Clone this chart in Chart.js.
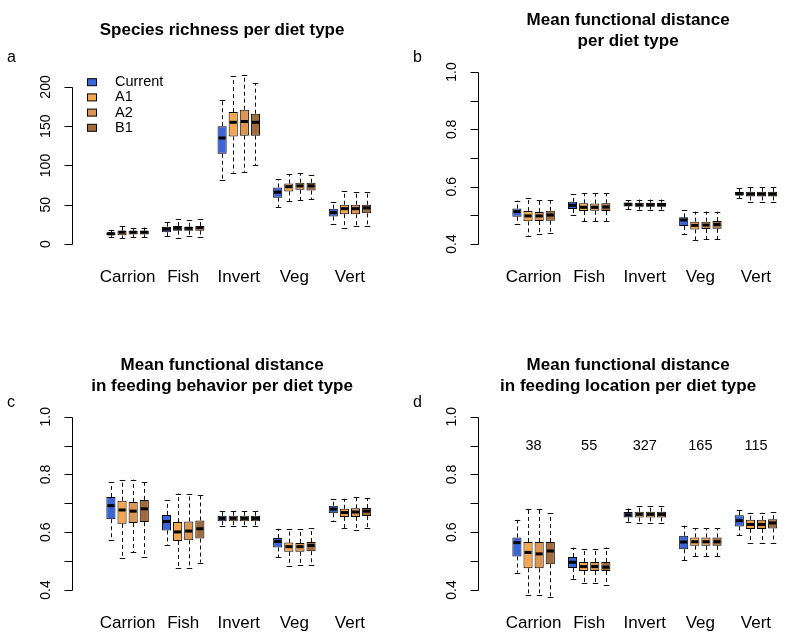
<!DOCTYPE html>
<html>
<head>
<meta charset="utf-8">
<script src="https://cdn.jsdelivr.net/npm/chart.js@4.4.0/dist/chart.umd.min.js"></script>
<style>
body { margin: 0; background: #fff; }
#wrap { position: relative; width: 800px; height: 643px; }
canvas { position: absolute; }
</style>
</head>
<body>
<div id="wrap">
  <canvas id="panelA" width="400" height="321" style="left:0;top:0"></canvas>
  <canvas id="panelB" width="400" height="321" style="left:400px;top:0"></canvas>
  <canvas id="panelC" width="400" height="322" style="left:0;top:321px"></canvas>
  <canvas id="panelD" width="400" height="322" style="left:400px;top:321px"></canvas>
</div>
<script>
const categories = ['Carrion', 'Fish', 'Invert', 'Veg', 'Vert'];
const scenarios = ['Current', 'A1', 'A2', 'B1'];
const boxColors = ['#3a65d8', '#f4a650', '#dc9552', '#a26b3b'];

// each row: [lower whisker, q1, median, q3, upper whisker] per diet type
const richCurrent = [[9, 11, 13, 15, 18], [10, 15, 19, 22, 28], [82, 115, 135, 150, 184], [47, 59, 66, 72, 83], [26, 35, 40, 45, 54]];
const richA1 = [[7, 11, 15, 17, 23], [7, 17, 20, 23, 32], [91, 137, 155, 168, 214], [55, 67, 73, 77, 89], [20, 38, 45, 50, 68]];
const richA2 = [[9, 12, 15, 17, 20], [10, 17, 20, 22, 30], [92, 138, 156, 171, 215], [56, 69, 74, 78, 90], [23, 38, 45, 50, 66]];
const richB1 = [[9, 12, 15, 17, 21], [9, 17, 21, 23, 32], [100, 138, 155, 166, 205], [57, 68, 74, 78, 88], [23, 39, 46, 50, 66]];

const fdCurrent = [[.470, .495, .513, .524, .551], [.500, .522, .535, .547, .573], [.521, .531, .538, .545, .553], [.436, .463, .484, .493, .518], [.559, .569, .575, .581, .594]];
const fdA1 = [[.428, .479, .498, .515, .561], [.480, .515, .528, .542, .577], [.520, .530, .537, .544, .555], [.414, .451, .465, .478, .513], [.545, .566, .574, .582, .600]];
const fdA2 = [[.435, .480, .498, .512, .553], [.480, .516, .528, .541, .577], [.520, .530, .537, .544, .555], [.416, .452, .466, .478, .513], [.545, .566, .574, .582, .600]];
const fdB1 = [[.437, .481, .501, .516, .553], [.480, .515, .529, .542, .577], [.520, .530, .537, .544, .555], [.417, .453, .468, .480, .513], [.545, .566, .574, .582, .600]];

const fbCurrent = [[.574, .645, .692, .722, .774], [.555, .606, .637, .660, .711], [.623, .638, .648, .657, .672], [.514, .547, .568, .580, .612], [.640, .666, .680, .692, .715]];
const fbA1 = [[.511, .629, .677, .709, .782], [.475, .570, .601, .635, .734], [.622, .638, .648, .657, .673], [.484, .532, .550, .564, .611], [.613, .653, .668, .681, .716]];
const fbA2 = [[.530, .632, .673, .705, .782], [.477, .572, .604, .637, .732], [.622, .638, .648, .657, .673], [.485, .532, .550, .563, .610], [.607, .653, .670, .683, .722]];
const fbB1 = [[.513, .635, .681, .712, .773], [.495, .578, .612, .641, .729], [.622, .638, .648, .657, .673], [.488, .534, .554, .566, .614], [.615, .656, .673, .684, .719]];

const flCurrent = [[.460, .516, .564, .582, .643], [.439, .476, .496, .514, .547], [.636, .651, .660, .670, .682], [.504, .541, .566, .588, .623], [.590, .620, .640, .659, .676]];
const flA1 = [[.383, .475, .530, .566, .680], [.423, .466, .481, .497, .541], [.632, .651, .662, .671, .692], [.516, .553, .567, .582, .614], [.564, .611, .627, .643, .668]];
const flA2 = [[.383, .475, .525, .566, .680], [.423, .466, .481, .497, .541], [.632, .651, .662, .671, .692], [.516, .553, .567, .582, .614], [.564, .611, .627, .643, .668]];
const flB1 = [[.377, .489, .535, .566, .666], [.417, .466, .479, .497, .547], [.632, .651, .662, .671, .692], [.516, .553, .567, .582, .614], [.564, .613, .632, .645, .670]];

// species counts shown above panel d
const speciesCounts = [38, 55, 327, 165, 115];

const richTicks = [0, 50, 100, 150, 200];
const richTickLabels = ['0', '50', '100', '150', '200'];
const distTicks = [0.4, 0.5, 0.6, 0.7, 0.8, 0.9, 1.0];
const distTickLabels = ['0.4', '', '0.6', '', '0.8', '', '1.0'];

Chart.defaults.font.family = 'Arial, "Liberation Sans", sans-serif';
Chart.defaults.color = '#000';

// whiskers, medians, axis, legend, letters
function boxExtras(p) {
  return {
    id: 'boxExtras',
    beforeDatasetsDraw(chart) {
      const ctx = chart.ctx, y = chart.scales.y;
      ctx.save();
      ctx.strokeStyle = '#111';
      ctx.lineWidth = 1;
      chart.data.datasets.forEach((ds, di) => {
        chart.getDatasetMeta(di).data.forEach((bar, i) => {
          const s = ds.stats[i];
          const x = Math.round(bar.x) + 0.5;
          const q = bar.width / 4;
          ctx.setLineDash([4, 3]);
          ctx.beginPath();
          ctx.moveTo(x, y.getPixelForValue(s[3]));
          ctx.lineTo(x, y.getPixelForValue(s[4]));
          ctx.moveTo(x, y.getPixelForValue(s[1]));
          ctx.lineTo(x, y.getPixelForValue(s[0]));
          ctx.stroke();
          ctx.setLineDash([]);
          ctx.beginPath();
          [s[0], s[4]].forEach(v => {
            const py = Math.round(y.getPixelForValue(v)) + 0.5;
            ctx.moveTo(x - q - 0.5, py);
            ctx.lineTo(x + q + 0.5, py);
          });
          ctx.stroke();
        });
      });
      ctx.restore();
    },
    afterDatasetsDraw(chart) {
      const ctx = chart.ctx, y = chart.scales.y, xs = chart.scales.x;
      const area = chart.chartArea;
      ctx.save();
      // medians
      ctx.strokeStyle = '#000';
      ctx.lineWidth = 3;
      chart.data.datasets.forEach((ds, di) => {
        chart.getDatasetMeta(di).data.forEach((bar, i) => {
          const py = y.getPixelForValue(ds.stats[i][2]);
          ctx.beginPath();
          ctx.moveTo(bar.x - bar.width / 2 + 1, py);
          ctx.lineTo(bar.x + bar.width / 2 - 1, py);
          ctx.stroke();
        });
      });
      // y axis
      const ax = Math.round(area.left) + 0.5;
      ctx.lineWidth = 1;
      ctx.beginPath();
      ctx.moveTo(ax, Math.round(y.getPixelForValue(p.ticks[0])) + 0.5);
      ctx.lineTo(ax, Math.round(y.getPixelForValue(p.ticks[p.ticks.length - 1])) + 0.5);
      p.ticks.forEach(t => {
        const py = Math.round(y.getPixelForValue(t)) + 0.5;
        ctx.moveTo(ax, py);
        ctx.lineTo(ax - 8, py);
      });
      ctx.stroke();
      ctx.fillStyle = '#000';
      ctx.font = '14px Arial, "Liberation Sans", sans-serif';
      ctx.textAlign = 'center';
      ctx.textBaseline = 'middle';
      p.ticks.forEach((t, i) => {
        if (!p.tickLabels[i]) return;
        ctx.save();
        ctx.translate(area.left - 25.5, y.getPixelForValue(t));
        ctx.rotate(-Math.PI / 2);
        ctx.fillText(p.tickLabels[i], 0, 0);
        ctx.restore();
      });
      // counts
      if (p.counts) {
        ctx.font = '14.5px Arial, "Liberation Sans", sans-serif';
        p.counts.forEach((n, i) => {
          ctx.fillText(String(n), xs.getPixelForValue(i), y.getPixelForValue(0.9));
        });
      }
      // legend
      if (p.legend) {
        ctx.font = '14.5px Arial, "Liberation Sans", sans-serif';
        ctx.textAlign = 'left';
        chart.data.datasets.forEach((ds, i) => {
          const cy = 82.2 + i * 15.2;
          ctx.fillStyle = ds.backgroundColor;
          ctx.fillRect(87.5, cy - 3.5, 9, 7);
          ctx.strokeStyle = '#000';
          ctx.strokeRect(87.5, cy - 3.5, 9, 7);
          ctx.fillStyle = '#000';
          ctx.fillText(ds.label, 115, cy);
        });
      }
      // panel letter
      ctx.font = '16px Arial, "Liberation Sans", sans-serif';
      ctx.textAlign = 'left';
      ctx.textBaseline = 'alphabetic';
      ctx.fillText(p.letter, p.letterX, p.letterY);
      ctx.restore();
    }
  };
}

function makePanel(id, p) {
  const datasets = p.series.map((stats, si) => ({
    label: scenarios[si],
    stats: stats,
    data: stats.map((s, i) => ({ x: i, y: [s[1], s[3]] })),
    backgroundColor: boxColors[si],
    borderColor: '#000',
    borderWidth: 1,
    borderSkipped: false,
    barPercentage: 0.82,
    categoryPercentage: 0.8
  }));
  new Chart(document.getElementById(id), {
    type: 'bar',
    data: { datasets: datasets },
    options: {
      responsive: false,
      animation: false,
      devicePixelRatio: 1,
      layout: { padding: { left: p.left, right: 400 - p.left - 300.2, top: 0, bottom: 0 } },
      plugins: {
        legend: { display: false },
        tooltip: { enabled: false },
        title: {
          display: true,
          text: p.title,
          fullSize: false,
          color: '#000',
          font: { size: 17, weight: 'bold', lineHeight: 1.235 },
          padding: { top: p.titleTop, bottom: p.titleBottom }
        }
      },
      scales: {
        x: {
          type: 'linear',
          min: -1,
          max: 4.4,
          offset: false,
          grid: { display: false, drawTicks: false },
          border: { display: false },
          afterBuildTicks: s => { s.ticks = categories.map((c, i) => ({ value: i })); },
          afterFit: s => { s.height = p.xAxisH; },
          ticks: {
            autoSkip: false,
            maxRotation: 0,
            padding: 16,
            color: '#000',
            font: { size: 17 },
            callback: v => categories[v]
          }
        },
        y: { display: false, min: p.yMin, max: p.yMax }
      }
    },
    plugins: [boxExtras(p)]
  });
}

makePanel('panelA', {
  series: [richCurrent, richA1, richA2, richB1],
  title: 'Species richness per diet type',
  titleTop: 19.5, titleBottom: 24.5, xAxisH: 70.1, left: 72,
  yMin: -8.8, yMax: 228, ticks: richTicks, tickLabels: richTickLabels,
  letter: 'a', letterX: 7, letterY: 61.5, legend: true
});
makePanel('panelB', {
  series: [fdCurrent, fdA1, fdA2, fdB1],
  title: ['Mean functional distance', 'per diet type'],
  titleTop: 9.5, titleBottom: 13.6, xAxisH: 70.1, left: 78,
  yMin: 0.376, yMax: 1.024, ticks: distTicks, tickLabels: distTickLabels,
  letter: 'b', letterX: 13, letterY: 61.5
});
makePanel('panelC', {
  series: [fbCurrent, fbA1, fbA2, fbB1],
  title: ['Mean functional distance', 'in feeding behavior per diet type'],
  titleTop: 33.5, titleBottom: 13.3, xAxisH: 46.1, left: 72,
  yMin: 0.376, yMax: 1.024, ticks: distTicks, tickLabels: distTickLabels,
  letter: 'c', letterX: 7, letterY: 85.5
});
makePanel('panelD', {
  series: [flCurrent, flA1, flA2, flB1],
  title: ['Mean functional distance', 'in feeding location per diet type'],
  titleTop: 33.5, titleBottom: 13.3, xAxisH: 46.1, left: 78,
  yMin: 0.376, yMax: 1.024, ticks: distTicks, tickLabels: distTickLabels,
  letter: 'd', letterX: 13, letterY: 86, counts: speciesCounts
});
</script>
</body>
</html>
